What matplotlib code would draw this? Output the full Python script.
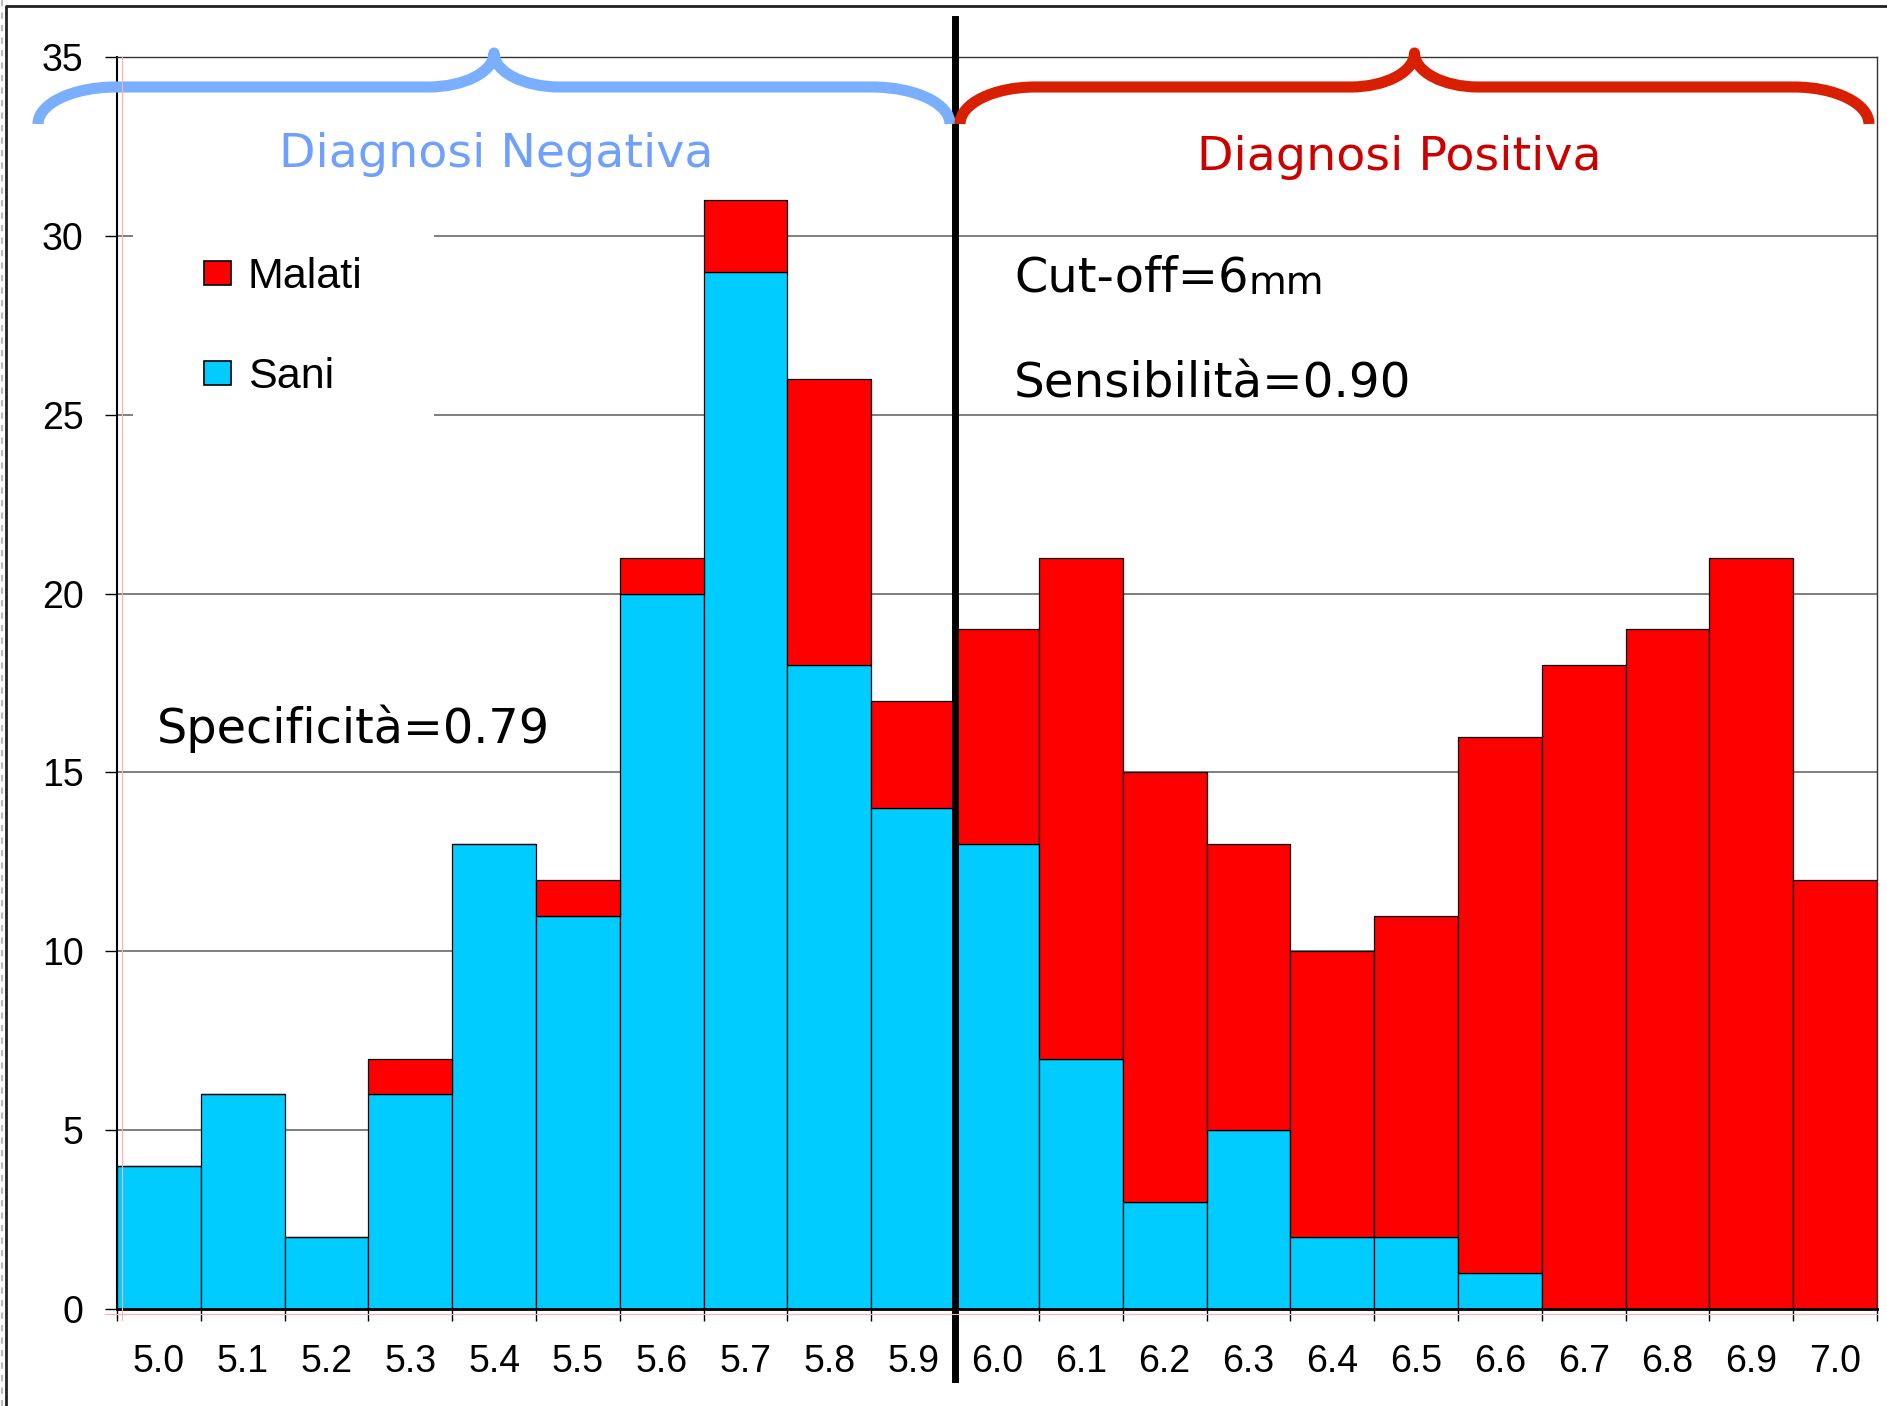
"""
Stacked histogram of lesion thickness for healthy (Sani) and ill (Malati)
subjects, with the 6 mm cut-off splitting negative and positive diagnoses.
"""

import matplotlib
matplotlib.use('Agg')
import matplotlib.pyplot as plt
import numpy as np
from matplotlib.path import Path
from matplotlib.patches import PathPatch, Patch
from matplotlib.lines import Line2D

# thickness classes (mm)
classes = ['5.0', '5.1', '5.2', '5.3', '5.4', '5.5', '5.6', '5.7', '5.8', '5.9',
           '6.0', '6.1', '6.2', '6.3', '6.4', '6.5', '6.6', '6.7', '6.8', '6.9', '7.0']
sani = [4, 6, 2, 6, 13, 11, 20, 29, 18, 14, 13, 7, 3, 5, 2, 2, 1, 0, 0, 0, 0]
malati = [0, 0, 0, 1, 0, 1, 1, 2, 8, 3, 6, 14, 12, 8, 8, 9, 15, 18, 19, 21, 12]
cutoff_index = 9.5  # boundary between 5.9 and 6.0
y_ticks = [0, 5, 10, 15, 20, 25, 30, 35]

CYAN = '#00CCFF'
RED = '#FF0000'
BLUE_BRACE = '#7AAEFF'
BLUE_TEXT = '#6FA0FF'
RED_BRACE = '#D82000'
RED_TEXT = '#CC0000'

W, H = 1887, 1406
fig = plt.figure(figsize=(W / 100, H / 100), dpi=100)

# main plotting area (pixel box converted to figure fractions)
ax = fig.add_axes([117 / W, 1 - 1309 / H, 1760 / W, 1252 / H])

x = np.arange(len(classes))
ax.bar(x, sani, width=1.0, color=CYAN, edgecolor='black', linewidth=0.9, zorder=2)
ax.bar(x, malati, width=1.0, bottom=sani, color=RED, edgecolor='black',
       linewidth=0.9, zorder=2)

ax.set_xlim(-0.5, len(classes) - 0.5)
ax.set_ylim(0, 35)

ax.set_yticks(y_ticks)
ax.set_yticklabels([str(v) for v in y_ticks], fontsize=27, family='Liberation Sans')
ax.tick_params(axis='y', direction='out', length=8.6, width=1, pad=15.5)

ax.set_xticks(x)
ax.set_xticklabels(classes, fontsize=27, family='Liberation Sans')
ax.tick_params(axis='x', which='major', length=0, pad=25)
ax.set_xticks(np.arange(-0.5, len(classes)), minor=True)
ax.tick_params(axis='x', which='minor', direction='out', length=8.6, width=1)

ax.set_axisbelow(True)
ax.yaxis.grid(True, color='#6a6a6a', linewidth=1.2)

ax.spines['left'].set_linewidth(1.5)
ax.spines['bottom'].set_linewidth(2)
for side in ('top', 'right'):
    ax.spines[side].set_linewidth(1)
    ax.spines[side].set_color('#333333')

# cut-off line runs past the top and bottom of the axes
ax.axvline(cutoff_index, ymin=-0.056, ymax=1.03, color='black', linewidth=5,
           clip_on=False, zorder=6)

# overlay in pixel coordinates for braces, labels and frame
ov = fig.add_axes([0, 0, 1, 1], zorder=10)
ov.set_xlim(0, W)
ov.set_ylim(H, 0)
ov.axis('off')
ov.patch.set_visible(False)


def draw_brace(axis, x0, x1, y_end, y_mid, y_tip, r_end, r_tip, color):
    """Horizontal curly brace opening downward, tip pointing up."""
    k = 0.552
    xm = (x0 + x1) / 2
    ry_end = y_end - y_mid
    ry_tip = y_mid - y_tip
    verts = [
        (x0, y_end),
        (x0, y_end - k * ry_end), (x0 + r_end * (1 - k), y_mid), (x0 + r_end, y_mid),
        (xm - r_tip, y_mid),
        (xm - r_tip * (1 - k), y_mid), (xm, y_tip + k * ry_tip), (xm, y_tip),
        (xm, y_tip + k * ry_tip), (xm + r_tip * (1 - k), y_mid), (xm + r_tip, y_mid),
        (x1 - r_end, y_mid),
        (x1 - r_end * (1 - k), y_mid), (x1, y_end - k * ry_end), (x1, y_end),
    ]
    codes = ([Path.MOVETO] + [Path.CURVE4] * 3 + [Path.LINETO] + [Path.CURVE4] * 3
             + [Path.CURVE4] * 3 + [Path.LINETO] + [Path.CURVE4] * 3)
    axis.add_patch(PathPatch(Path(verts, codes), facecolor='none', edgecolor=color,
                             linewidth=8, capstyle='butt', joinstyle='round'))


draw_brace(ov, 38, 950, 124, 87, 53, 78, 66, BLUE_BRACE)
draw_brace(ov, 960, 1869, 124, 87, 53, 75, 64, RED_BRACE)

ov.text(279, 167, 'Diagnosi Negativa', color=BLUE_TEXT, fontsize=34.2,
        family='DejaVu Sans', va='baseline', ha='left')
ov.text(1197, 170, 'Diagnosi Positiva', color=RED_TEXT, fontsize=34.2,
        family='DejaVu Sans', va='baseline', ha='left')

cut = ov.text(1014, 292, 'Cut-off=6', fontsize=34.5, family='DejaVu Sans',
              va='baseline', ha='left')
ov.annotate('mm', xy=(1, 0), xycoords=cut, fontsize=28, family='DejaVu Sans',
            va='bottom', ha='left')
ov.text(1014, 397, 'Sensibilità=0.90', fontsize=34.8, family='DejaVu Sans',
        va='baseline', ha='left')
ov.text(157, 743, 'Specificità=0.79', fontsize=34.4, family='DejaVu Sans',
        va='baseline', ha='left')

# faint guide lines along the axes
ov.add_line(Line2D([122, 122], [57, 1320], color='#ffb0b0', linewidth=0.8))
ov.add_line(Line2D([105, 1877], [1314, 1314], color='#ffb0b0', linewidth=0.8))

# outer slide frame
ov.add_line(Line2D([6, 6, W], [H, 6, 6], color='#222222', linewidth=2))
ov.add_line(Line2D([1.5, 1.5], [0, H], color='#bbbbbb', linewidth=1.5,
                   linestyle=(0, (3, 3))))

handles = [Patch(facecolor=RED, edgecolor='black', linewidth=1.2),
           Patch(facecolor=CYAN, edgecolor='black', linewidth=1.2)]
leg = ax.legend(handles, ['Malati', 'Sani'], loc='upper left',
                bbox_to_anchor=(133, 186), bbox_transform=ov.transData,
                borderaxespad=0, borderpad=1.65, frameon=True, fancybox=False,
                facecolor='white', edgecolor='none', framealpha=1,
                prop={'family': 'Liberation Sans', 'size': 31},
                handlelength=0.62, handleheight=0.48, handletextpad=0.4,
                labelspacing=1.4)
leg.set_zorder(5)

fig.savefig('out.png', dpi=100)
